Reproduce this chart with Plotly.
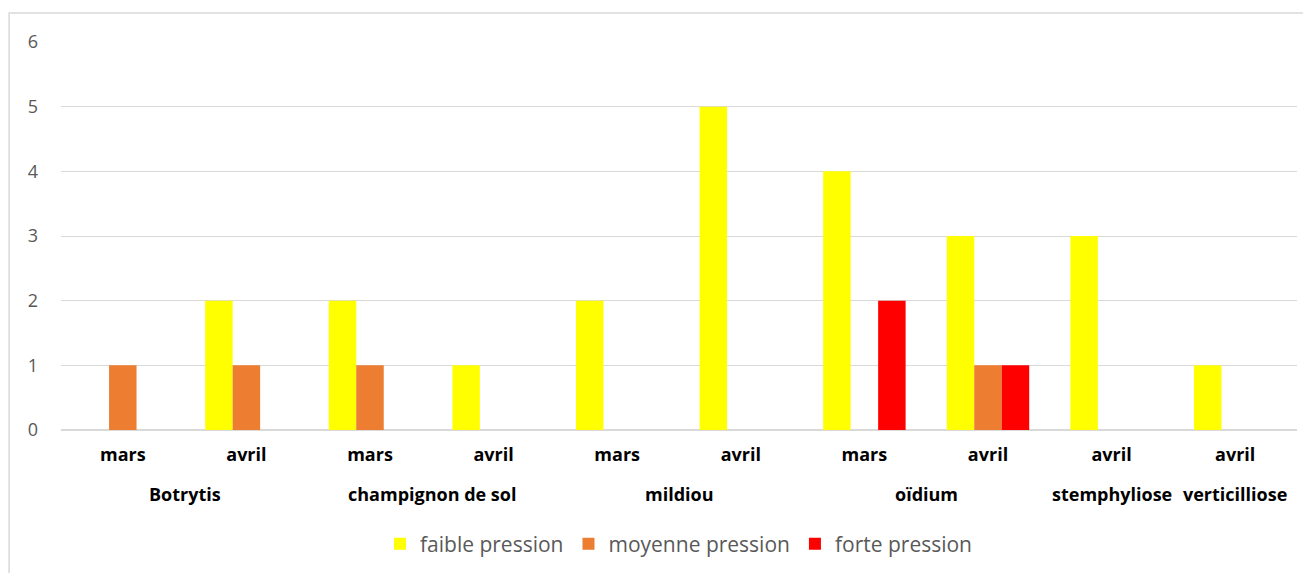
import plotly.graph_objects as go

diseases = ["Botrytis", "champignon de sol", "mildiou", "oïdium", "stemphyliose", "verticilliose"]
disease_span = [(0, 1), (2, 3), (4, 5), (6, 7), (8, 8), (9, 9)]
months = ["mars", "avril", "mars", "avril", "mars", "avril", "mars", "avril", "avril", "avril"]
faible = [None, 2, 2, 1, 2, 5, 4, 3, 3, 1]
moyenne = [1, 1, 1, None, None, None, None, 1, None, None]
forte = [None, None, None, None, None, None, 2, 1, None, None]

series = [("faible pression", faible, "#FFFF00"),
          ("moyenne pression", moyenne, "#ED7D31"),
          ("forte pression", forte, "#FF0000")]

xpos = list(range(len(months)))

fig = go.Figure()
for name, vals, col in series:
    fig.add_trace(go.Bar(x=xpos, y=vals, name=name,
                         marker=dict(color=col, line=dict(width=0))))

fig.update_layout(
    width=1303, height=565,
    margin=dict(l=53, r=14, t=34, b=143, autoexpand=False),
    paper_bgcolor="white", plot_bgcolor="white",
    barmode="group", bargap=0.333, bargroupgap=0,
    font=dict(family="Open Sans", color="#595959"),
    legend=dict(orientation="h", x=0.5, xanchor="center", y=-0.294, yanchor="middle",
                font=dict(size=21, color="#595959"), traceorder="normal",
                itemwidth=30),
    showlegend=True,
)
fig.update_yaxes(range=[0, 6], dtick=1, showgrid=True, gridcolor="#D9D9D9", gridwidth=1,
                 zeroline=True, zerolinecolor="#D9D9D9", zerolinewidth=2,
                 tickfont=dict(size=18, color="#595959"), ticklabelstandoff=22,
                 showline=False, automargin=False)
fig.update_xaxes(range=[-0.5, len(months) - 0.5], tickmode="array", tickvals=xpos, ticktext=months,
                 showgrid=False, zeroline=False, showline=False, ticks="",
                 tickfont=dict(size=18, color="black", family="Open Sans", weight="bold"),
                 ticklabelstandoff=12, automargin=False)

for name, (a, b) in zip(diseases, disease_span):
    fig.add_annotation(x=(a + b) / 2, xref="x", y=-0.165, yref="paper", text=name,
                       showarrow=False, yanchor="middle",
                       font=dict(size=18, color="black", family="Open Sans", weight="bold"))

fig.add_shape(type="rect", xref="paper", yref="paper",
              x0=-0.042, x1=1.03, y0=-0.5, y1=1.075,
              line=dict(color="#D9D9D9", width=1.5), fillcolor="rgba(0,0,0,0)", layer="below")

fig.write_html("out.html")
